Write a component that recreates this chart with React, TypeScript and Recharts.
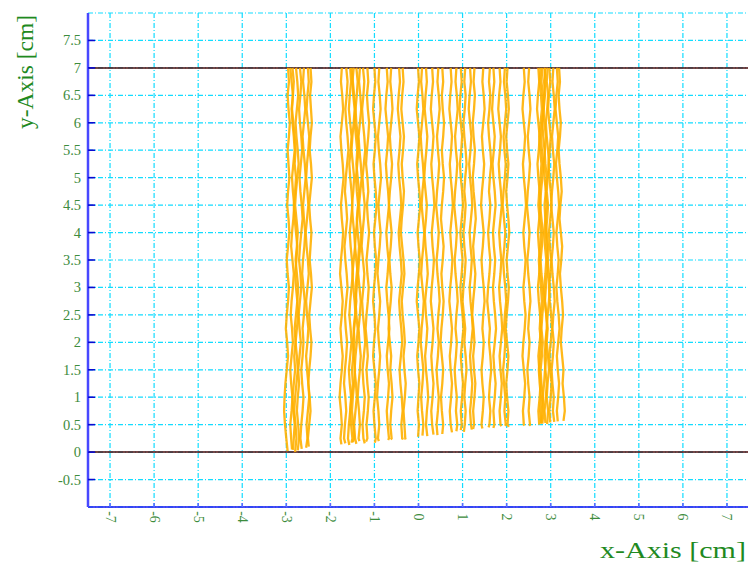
import React from 'react';
import { ScatterChart, Scatter, XAxis, YAxis, CartesianGrid, ReferenceLine } from 'recharts';

// Axis setup
const X_DOMAIN: [number, number] = [-7.5, 7.5];
const Y_DOMAIN: [number, number] = [-1, 8];
const X_TICKS = [-7, -6, -5, -4, -3, -2, -1, 0, 1, 2, 3, 4, 5, 6, 7];
const Y_TICKS = [-0.5, 0, 0.5, 1, 1.5, 2, 2.5, 3, 3.5, 4, 4.5, 5, 5.5, 6, 6.5, 7, 7.5];
const BOUNDARY_LINES = [0, 7];

// Tracks are sampled from the top boundary downwards every STEP cm;
// the final x value of each track belongs to its start height.
const TOP_Y = 7;
const STEP = 0.25;

// Bundle near x = -3 .. -2.4
const BUNDLE_A_START = [0.02, 0.05, 0.0, 0.03, 0.06, 0.08, 0.1, 0.04];
const BUNDLE_A_X = [
  [-2.96, -2.94, -2.97, -2.95, -2.92, -2.94, -2.97, -2.95, -2.93, -2.96, -2.98, -2.95, -2.93, -2.96, -2.99, -2.97, -2.94, -2.96, -2.99, -3.01, -2.98, -2.96, -2.99, -3.02, -3.04, -3.05, -3.03, -3.0, -2.97],
  [-2.86, -2.83, -2.85, -2.88, -2.86, -2.83, -2.81, -2.84, -2.87, -2.85, -2.82, -2.84, -2.87, -2.89, -2.86, -2.83, -2.85, -2.88, -2.9, -2.87, -2.85, -2.88, -2.91, -2.89, -2.86, -2.88, -2.91, -2.89, -2.87],
  [-2.78, -2.75, -2.73, -2.76, -2.79, -2.77, -2.74, -2.72, -2.75, -2.78, -2.8, -2.77, -2.74, -2.76, -2.79, -2.76, -2.73, -2.75, -2.78, -2.81, -2.79, -2.76, -2.74, -2.77, -2.8, -2.82, -2.79, -2.77, -2.8],
  [-2.69, -2.66, -2.68, -2.71, -2.69, -2.66, -2.64, -2.67, -2.7, -2.68, -2.65, -2.63, -2.66, -2.69, -2.71, -2.68, -2.66, -2.69, -2.72, -2.7, -2.67, -2.7, -2.73, -2.71, -2.74, -2.76, -2.73, -2.71, -2.74],
  [-2.6, -2.62, -2.59, -2.57, -2.6, -2.63, -2.61, -2.58, -2.56, -2.59, -2.62, -2.6, -2.57, -2.59, -2.62, -2.64, -2.61, -2.58, -2.6, -2.63, -2.61, -2.63, -2.66, -2.64, -2.61, -2.63, -2.66, -2.68, -2.65],
  [-2.51, -2.49, -2.52, -2.54, -2.51, -2.48, -2.5, -2.53, -2.55, -2.52, -2.5, -2.53, -2.56, -2.54, -2.51, -2.49, -2.52, -2.55, -2.53, -2.5, -2.52, -2.55, -2.53, -2.5, -2.48, -2.51, -2.54, -2.52, -2.55],
  [-2.45, -2.43, -2.46, -2.44, -2.42, -2.45, -2.47, -2.44, -2.42, -2.45, -2.48, -2.46, -2.43, -2.45, -2.47, -2.44, -2.42, -2.45, -2.48, -2.46, -2.43, -2.45, -2.48, -2.5, -2.47, -2.45, -2.48, -2.51, -2.49],
  [-2.91, -2.88, -2.85, -2.87, -2.84, -2.81, -2.79, -2.81, -2.78, -2.8, -2.83, -2.81, -2.78, -2.75, -2.77, -2.8, -2.78, -2.75, -2.73, -2.76, -2.79, -2.82, -2.8, -2.83, -2.86, -2.84, -2.81, -2.83, -2.85],
];

// Bundle near x = -1.8 .. -1.1
const BUNDLE_B_START = [0.14, 0.16, 0.13, 0.18, 0.15, 0.2, 0.16, 0.19, 0.17];
const BUNDLE_B_X = [
  [-1.74, -1.76, -1.73, -1.71, -1.74, -1.77, -1.75, -1.72, -1.7, -1.73, -1.76, -1.74, -1.71, -1.73, -1.76, -1.78, -1.75, -1.72, -1.74, -1.77, -1.75, -1.72, -1.74, -1.77, -1.79, -1.76, -1.74, -1.77, -1.75],
  [-1.64, -1.61, -1.63, -1.66, -1.64, -1.61, -1.59, -1.62, -1.65, -1.67, -1.64, -1.62, -1.65, -1.68, -1.66, -1.63, -1.61, -1.64, -1.67, -1.65, -1.62, -1.64, -1.67, -1.69, -1.66, -1.64, -1.67, -1.69, -1.66],
  [-1.55, -1.53, -1.56, -1.58, -1.55, -1.52, -1.54, -1.57, -1.55, -1.52, -1.5, -1.53, -1.56, -1.54, -1.51, -1.49, -1.52, -1.55, -1.57, -1.54, -1.52, -1.55, -1.58, -1.56, -1.53, -1.55, -1.58, -1.6, -1.57],
  [-1.47, -1.5, -1.48, -1.45, -1.47, -1.5, -1.52, -1.49, -1.46, -1.48, -1.51, -1.49, -1.46, -1.44, -1.47, -1.5, -1.48, -1.45, -1.43, -1.46, -1.49, -1.47, -1.44, -1.46, -1.49, -1.51, -1.48, -1.46, -1.49],
  [-1.41, -1.38, -1.4, -1.43, -1.41, -1.38, -1.36, -1.39, -1.42, -1.4, -1.37, -1.39, -1.42, -1.44, -1.41, -1.38, -1.4, -1.43, -1.41, -1.38, -1.4, -1.43, -1.45, -1.42, -1.4, -1.43, -1.46, -1.44, -1.41],
  [-1.33, -1.35, -1.32, -1.3, -1.33, -1.36, -1.34, -1.31, -1.29, -1.32, -1.35, -1.33, -1.3, -1.32, -1.35, -1.37, -1.34, -1.31, -1.33, -1.36, -1.34, -1.31, -1.33, -1.36, -1.38, -1.35, -1.33, -1.36, -1.34],
  [-1.26, -1.23, -1.25, -1.28, -1.26, -1.23, -1.21, -1.24, -1.27, -1.25, -1.22, -1.24, -1.27, -1.29, -1.26, -1.23, -1.25, -1.28, -1.26, -1.23, -1.21, -1.24, -1.27, -1.25, -1.22, -1.24, -1.27, -1.25, -1.22],
  [-1.16, -1.14, -1.17, -1.15, -1.12, -1.14, -1.17, -1.19, -1.16, -1.14, -1.17, -1.15, -1.12, -1.15, -1.18, -1.16, -1.13, -1.15, -1.18, -1.2, -1.17, -1.15, -1.18, -1.16, -1.13, -1.15, -1.18, -1.16, -1.19],
  [-1.52, -1.49, -1.46, -1.43, -1.45, -1.42, -1.39, -1.41, -1.38, -1.35, -1.37, -1.4, -1.38, -1.35, -1.37, -1.4, -1.43, -1.41, -1.44, -1.47, -1.45, -1.48, -1.51, -1.49, -1.52, -1.55, -1.53, -1.5, -1.52],
];

// Bundle near x = -1 .. -0.3
const BUNDLE_C_START = [0.17, 0.2, 0.22, 0.23, 0.24, 0.23];
const BUNDLE_C_X = [
  [-1.0, -0.98, -1.01, -1.03, -1.0, -0.97, -0.99, -1.02, -1.0, -0.97, -0.95, -0.98, -1.01, -0.99, -0.96, -0.98, -1.01, -1.03, -1.0, -0.98, -1.01, -1.03, -1.0, -0.97, -0.99, -1.02, -1.0, -0.97, -0.99],
  [-0.89, -0.91, -0.88, -0.86, -0.89, -0.92, -0.9, -0.87, -0.85, -0.88, -0.91, -0.89, -0.86, -0.88, -0.91, -0.93, -0.9, -0.87, -0.89, -0.92, -0.9, -0.87, -0.89, -0.92, -0.94, -0.91, -0.89, -0.92, -0.9],
  [-0.72, -0.7, -0.73, -0.75, -0.72, -0.69, -0.71, -0.74, -0.72, -0.69, -0.67, -0.7, -0.73, -0.71, -0.68, -0.7, -0.73, -0.71, -0.68, -0.66, -0.69, -0.72, -0.7, -0.67, -0.69, -0.72, -0.7, -0.67, -0.69],
  [-0.62, -0.64, -0.61, -0.59, -0.62, -0.65, -0.63, -0.6, -0.62, -0.65, -0.67, -0.64, -0.61, -0.63, -0.66, -0.64, -0.61, -0.63, -0.66, -0.68, -0.65, -0.62, -0.64, -0.61, -0.59, -0.62, -0.64, -0.61, -0.63],
  [-0.44, -0.42, -0.45, -0.47, -0.44, -0.41, -0.43, -0.46, -0.44, -0.41, -0.39, -0.42, -0.45, -0.43, -0.4, -0.38, -0.41, -0.44, -0.42, -0.39, -0.37, -0.4, -0.43, -0.41, -0.38, -0.36, -0.39, -0.37, -0.34],
  [-0.36, -0.34, -0.37, -0.39, -0.36, -0.33, -0.35, -0.38, -0.36, -0.33, -0.35, -0.38, -0.4, -0.37, -0.34, -0.32, -0.35, -0.38, -0.36, -0.33, -0.31, -0.34, -0.32, -0.29, -0.31, -0.34, -0.32, -0.3, -0.29],
];

// Bundle near x = 0 .. 0.55
const BUNDLE_D_START = [0.28, 0.3, 0.29, 0.32, 0.31, 0.33];
const BUNDLE_D_X = [
  [-0.01, 0.01, -0.02, -0.04, -0.01, 0.02, 0.0, -0.03, -0.01, 0.02, 0.04, 0.01, -0.02, 0.0, 0.03, 0.01, -0.02, -0.04, -0.01, 0.02, 0.0, -0.03, -0.01, 0.02, 0.0, -0.02, 0.01, -0.01],
  [0.08, 0.06, 0.09, 0.11, 0.08, 0.05, 0.07, 0.1, 0.12, 0.09, 0.07, 0.1, 0.13, 0.11, 0.08, 0.06, 0.09, 0.12, 0.1, 0.07, 0.05, 0.08, 0.11, 0.09, 0.06, 0.08, 0.11, 0.09],
  [0.17, 0.19, 0.16, 0.14, 0.17, 0.2, 0.18, 0.15, 0.13, 0.16, 0.19, 0.17, 0.14, 0.16, 0.19, 0.21, 0.18, 0.15, 0.17, 0.2, 0.18, 0.15, 0.17, 0.2, 0.22, 0.19, 0.17, 0.2],
  [0.31, 0.33, 0.3, 0.28, 0.31, 0.34, 0.32, 0.29, 0.31, 0.34, 0.36, 0.33, 0.3, 0.32, 0.35, 0.33, 0.3, 0.28, 0.31, 0.34, 0.32, 0.29, 0.31, 0.34, 0.32, 0.29, 0.31, 0.34],
  [0.45, 0.43, 0.46, 0.48, 0.45, 0.42, 0.44, 0.47, 0.45, 0.42, 0.4, 0.43, 0.46, 0.44, 0.41, 0.43, 0.46, 0.48, 0.45, 0.43, 0.46, 0.44, 0.41, 0.43, 0.46, 0.44, 0.41, 0.43],
  [0.54, 0.56, 0.53, 0.55, 0.58, 0.56, 0.53, 0.55, 0.58, 0.56, 0.53, 0.51, 0.54, 0.57, 0.55, 0.52, 0.54, 0.57, 0.55, 0.52, 0.5, 0.53, 0.56, 0.54, 0.51, 0.53, 0.56, 0.54],
];

// Bundle near x = 0.7 .. 1.3
const BUNDLE_E_START = [0.36, 0.38, 0.4, 0.37, 0.41, 0.42];
const BUNDLE_E_X = [
  [0.73, 0.75, 0.72, 0.7, 0.73, 0.76, 0.74, 0.71, 0.73, 0.76, 0.78, 0.75, 0.72, 0.74, 0.77, 0.75, 0.72, 0.7, 0.73, 0.76, 0.74, 0.71, 0.73, 0.76, 0.74, 0.71, 0.73, 0.76],
  [0.86, 0.84, 0.87, 0.89, 0.86, 0.83, 0.85, 0.88, 0.86, 0.83, 0.81, 0.84, 0.87, 0.85, 0.82, 0.84, 0.87, 0.89, 0.86, 0.84, 0.87, 0.85, 0.82, 0.84, 0.87, 0.85, 0.88, 0.86],
  [0.96, 0.98, 0.95, 0.93, 0.96, 0.99, 0.97, 0.94, 0.96, 0.99, 1.01, 0.98, 0.95, 0.97, 1.0, 0.98, 0.95, 0.97, 1.0, 1.02, 0.99, 0.96, 0.98, 1.01, 0.99, 0.96, 0.98, 0.96],
  [1.06, 1.04, 1.07, 1.05, 1.02, 1.04, 1.07, 1.09, 1.06, 1.04, 1.07, 1.05, 1.02, 1.04, 1.07, 1.05, 1.02, 1.0, 1.03, 1.06, 1.04, 1.07, 1.09, 1.06, 1.04, 1.07, 1.05, 1.03],
  [1.17, 1.19, 1.16, 1.14, 1.17, 1.2, 1.18, 1.15, 1.17, 1.2, 1.22, 1.19, 1.16, 1.18, 1.21, 1.19, 1.16, 1.18, 1.21, 1.23, 1.2, 1.17, 1.19, 1.22, 1.2, 1.17, 1.19, 1.21],
  [1.27, 1.25, 1.28, 1.26, 1.23, 1.25, 1.28, 1.26, 1.23, 1.25, 1.28, 1.3, 1.27, 1.24, 1.26, 1.29, 1.27, 1.24, 1.22, 1.25, 1.27, 1.24, 1.26, 1.29, 1.27, 1.24, 1.26, 1.24],
];

// Bundle near x = 1.45 .. 2.05
const BUNDLE_F_START = [0.43, 0.45, 0.44, 0.47, 0.48, 0.46];
const BUNDLE_F_X = [
  [1.47, 1.45, 1.48, 1.5, 1.47, 1.44, 1.46, 1.49, 1.47, 1.44, 1.42, 1.45, 1.48, 1.46, 1.43, 1.45, 1.48, 1.5, 1.47, 1.45, 1.48, 1.46, 1.43, 1.45, 1.48, 1.46, 1.43, 1.45],
  [1.62, 1.6, 1.63, 1.61, 1.58, 1.6, 1.63, 1.65, 1.62, 1.6, 1.63, 1.61, 1.58, 1.6, 1.63, 1.61, 1.58, 1.56, 1.59, 1.62, 1.6, 1.63, 1.65, 1.62, 1.6, 1.63, 1.61, 1.59],
  [1.7, 1.72, 1.69, 1.67, 1.7, 1.73, 1.71, 1.68, 1.7, 1.73, 1.75, 1.72, 1.69, 1.71, 1.74, 1.72, 1.69, 1.71, 1.74, 1.76, 1.73, 1.7, 1.72, 1.75, 1.73, 1.7, 1.72, 1.7],
  [1.84, 1.86, 1.83, 1.81, 1.84, 1.87, 1.85, 1.82, 1.84, 1.87, 1.89, 1.86, 1.83, 1.85, 1.88, 1.86, 1.83, 1.85, 1.88, 1.9, 1.87, 1.84, 1.86, 1.89, 1.87, 1.84, 1.86, 1.88],
  [1.96, 1.94, 1.97, 1.99, 1.96, 1.93, 1.95, 1.98, 1.96, 1.93, 1.91, 1.94, 1.97, 1.95, 1.92, 1.94, 1.97, 1.99, 1.96, 1.94, 1.97, 1.95, 1.92, 1.94, 1.97, 1.95, 1.98, 1.96],
  [2.02, 2.0, 2.03, 2.05, 2.02, 1.99, 2.01, 2.04, 2.02, 1.99, 2.01, 2.04, 2.06, 2.03, 2.0, 2.02, 2.05, 2.03, 2.0, 1.98, 2.01, 2.04, 2.02, 1.99, 2.01, 2.04, 2.02, 2.05],
];

// Pair near x = 2.4 .. 2.5
const BUNDLE_G_START = [0.49, 0.48];
const BUNDLE_G_X = [
  [2.39, 2.41, 2.38, 2.36, 2.39, 2.42, 2.4, 2.37, 2.39, 2.42, 2.44, 2.41, 2.38, 2.4, 2.43, 2.41, 2.38, 2.4, 2.43, 2.41, 2.38, 2.36, 2.39, 2.42, 2.4, 2.37, 2.39, 2.37],
  [2.51, 2.49, 2.52, 2.54, 2.51, 2.48, 2.5, 2.53, 2.51, 2.48, 2.46, 2.49, 2.52, 2.5, 2.47, 2.49, 2.52, 2.54, 2.51, 2.49, 2.52, 2.5, 2.47, 2.49, 2.52, 2.5, 2.53, 2.51],
];

// Bundle near x = 2.7 .. 3.3
const BUNDLE_H_START = [0.5, 0.52, 0.53, 0.51, 0.54, 0.55, 0.56, 0.57, 0.52, 0.53];
const BUNDLE_H_X = [
  [2.72, 2.74, 2.71, 2.69, 2.72, 2.75, 2.73, 2.7, 2.72, 2.75, 2.77, 2.74, 2.71, 2.73, 2.76, 2.74, 2.71, 2.73, 2.76, 2.78, 2.75, 2.72, 2.74, 2.77, 2.75, 2.72, 2.74],
  [2.81, 2.79, 2.82, 2.84, 2.81, 2.78, 2.8, 2.83, 2.81, 2.78, 2.76, 2.79, 2.82, 2.8, 2.77, 2.79, 2.82, 2.84, 2.81, 2.79, 2.82, 2.8, 2.77, 2.79, 2.82, 2.8, 2.78],
  [2.86, 2.88, 2.85, 2.83, 2.86, 2.89, 2.87, 2.84, 2.86, 2.89, 2.91, 2.88, 2.85, 2.87, 2.9, 2.88, 2.85, 2.87, 2.9, 2.92, 2.89, 2.86, 2.88, 2.91, 2.89, 2.86, 2.88],
  [2.93, 2.91, 2.94, 2.92, 2.89, 2.91, 2.94, 2.96, 2.93, 2.91, 2.94, 2.92, 2.89, 2.91, 2.94, 2.92, 2.89, 2.87, 2.9, 2.93, 2.91, 2.94, 2.96, 2.93, 2.91, 2.94, 2.92],
  [2.97, 2.99, 2.96, 2.94, 2.97, 3.0, 2.98, 2.95, 2.97, 3.0, 3.02, 2.99, 2.96, 2.98, 3.01, 2.99, 2.96, 2.98, 3.01, 3.03, 3.0, 2.97, 2.99, 3.02, 3.0, 2.97, 2.99],
  [3.06, 3.04, 3.07, 3.09, 3.06, 3.03, 3.05, 3.08, 3.06, 3.03, 3.01, 3.04, 3.07, 3.05, 3.02, 3.04, 3.07, 3.09, 3.06, 3.04, 3.07, 3.05, 3.02, 3.04, 3.07, 3.05, 3.08],
  [3.14, 3.16, 3.13, 3.11, 3.14, 3.17, 3.15, 3.12, 3.14, 3.17, 3.19, 3.16, 3.13, 3.15, 3.18, 3.16, 3.13, 3.15, 3.18, 3.2, 3.17, 3.14, 3.16, 3.19, 3.17, 3.14, 3.16],
  [3.19, 3.21, 3.18, 3.2, 3.23, 3.21, 3.18, 3.2, 3.23, 3.25, 3.22, 3.2, 3.23, 3.26, 3.24, 3.21, 3.23, 3.26, 3.28, 3.25, 3.23, 3.26, 3.29, 3.27, 3.3, 3.32, 3.29],
  [2.88, 2.85, 2.87, 2.84, 2.81, 2.83, 2.86, 2.88, 2.91, 2.89, 2.86, 2.88, 2.91, 2.94, 2.92, 2.95, 2.98, 2.96, 2.93, 2.91, 2.88, 2.9, 2.87, 2.85, 2.82, 2.84, 2.81],
  [2.77, 2.75, 2.78, 2.8, 2.77, 2.74, 2.76, 2.79, 2.77, 2.74, 2.72, 2.75, 2.78, 2.76, 2.73, 2.75, 2.78, 2.8, 2.77, 2.75, 2.78, 2.76, 2.73, 2.75, 2.78, 2.76, 2.79],
];

const BUNDLES: [number[], number[][]][] = [
  [BUNDLE_A_START, BUNDLE_A_X],
  [BUNDLE_B_START, BUNDLE_B_X],
  [BUNDLE_C_START, BUNDLE_C_X],
  [BUNDLE_D_START, BUNDLE_D_X],
  [BUNDLE_E_START, BUNDLE_E_X],
  [BUNDLE_F_START, BUNDLE_F_X],
  [BUNDLE_G_START, BUNDLE_G_X],
  [BUNDLE_H_START, BUNDLE_H_X],
];

type Pt = { x: number; y: number };

function trackPoints(start: number, xs: number[]): Pt[] {
  const last = xs.length - 1;
  return xs
    .map((x, i) => ({ x, y: i === last ? start : TOP_Y - STEP * i }))
    .filter((p, i) => i === last || p.y > start);
}

const TRACKS: Pt[][] = BUNDLES.flatMap(([starts, xs]) =>
  xs.map((row, i) => trackPoints(starts[i], row))
);

const SERIF = '"Liberation Serif", "Times New Roman", serif';
const LABEL_GREEN = '#3d8c3d';
const TITLE_GREEN = '#1f8a1f';
const TRACK_COLOR = '#FFB000';

const BottomTick = (props: any) => {
  const { x, y, payload } = props;
  const axisY = y - 10;
  return (
    <g>
      <line x1={x} y1={axisY} x2={x} y2={axisY - 4} stroke="#5b6bff" strokeWidth={1.6} />
      <text
        x={x}
        y={y}
        transform={`rotate(90, ${x}, ${y})`}
        textAnchor="middle"
        dominantBaseline="central"
        fontFamily={SERIF}
        fontSize={14}
        fill={LABEL_GREEN}
      >
        {payload.value}
      </text>
    </g>
  );
};

const TopTick = (props: any) => {
  const { x, y } = props;
  return <line x1={x} y1={y} x2={x} y2={y + 4} stroke="#3b3bff" strokeWidth={2} />;
};

const LeftTick = (props: any) => {
  const { x, y, payload } = props;
  const axisX = x + 7;
  return (
    <g>
      <line x1={axisX} y1={y} x2={axisX + 7} y2={y} stroke="#0a0ad0" strokeWidth={1.6} />
      <text
        x={x}
        y={y}
        textAnchor="end"
        dominantBaseline="central"
        fontFamily={SERIF}
        fontSize={14.5}
        fill={LABEL_GREEN}
      >
        {payload.value}
      </text>
    </g>
  );
};

const RightTick = (props: any) => {
  const { x, y } = props;
  return <line x1={x - 6} y1={y} x2={x} y2={y} stroke="#1a1aff" strokeWidth={1.6} />;
};

const NoDot = () => <g />;

export default function App() {
  return (
    <div
      style={{
        position: 'fixed',
        left: 0,
        top: 0,
        width: 748,
        height: 565,
        overflow: 'hidden',
        background: '#ffffff',
      }}
    >
      <ScatterChart width={760} height={565} margin={{ top: 13, right: 11, bottom: 0, left: 0 }}>
        <CartesianGrid stroke="#12dcff" strokeWidth={1.2} strokeDasharray="5 2 1 2" />
        <XAxis
          xAxisId={0}
          type="number"
          dataKey="x"
          domain={X_DOMAIN}
          ticks={X_TICKS}
          interval={0}
          allowDataOverflow
          height={58}
          axisLine={{ stroke: '#1010f0', strokeWidth: 1.6 }}
          tickLine={false}
          tickSize={0}
          tickMargin={10}
          tick={BottomTick}
        />
        <XAxis
          xAxisId="top"
          orientation="top"
          type="number"
          dataKey="x"
          domain={X_DOMAIN}
          ticks={X_TICKS}
          interval={0}
          allowDataOverflow
          height={0}
          axisLine={{ stroke: '#dcdcf0', strokeWidth: 1.5 }}
          tickLine={false}
          tickSize={0}
          tickMargin={0}
          tick={TopTick}
        />
        <YAxis
          yAxisId={0}
          type="number"
          dataKey="y"
          domain={Y_DOMAIN}
          ticks={Y_TICKS}
          interval={0}
          allowDataOverflow
          width={88}
          axisLine={{ stroke: '#4848ff', strokeWidth: 2.5 }}
          tickLine={false}
          tickSize={0}
          tickMargin={7}
          tick={LeftTick}
        />
        <YAxis
          yAxisId="right"
          orientation="right"
          type="number"
          dataKey="y"
          domain={Y_DOMAIN}
          ticks={Y_TICKS}
          interval={0}
          allowDataOverflow
          width={0}
          axisLine={false}
          tickLine={false}
          tickSize={0}
          tickMargin={0}
          tick={RightTick}
        />
        {BOUNDARY_LINES.map((v) => (
          <ReferenceLine key={v} y={v} yAxisId={0} xAxisId={0} stroke="#4a0808" strokeWidth={1.5} />
        ))}
        {TRACKS.map((pts, i) => (
          <Scatter
            key={i}
            xAxisId={0}
            yAxisId={0}
            data={pts}
            line={{ stroke: TRACK_COLOR, strokeWidth: 2.3, strokeOpacity: 0.9 }}
            lineJointType="linear"
            lineType="joint"
            shape={NoDot}
            isAnimationActive={false}
          />
        ))}
        <text
          x={33}
          y={72}
          transform="rotate(-90, 33, 72)"
          textAnchor="middle"
          fontFamily={SERIF}
          fontSize={23}
          fill={TITLE_GREEN}
          textLength={114}
          lengthAdjust="spacingAndGlyphs"
        >
          y-Axis [cm]
        </text>
        <text
          x={746}
          y={558}
          textAnchor="end"
          fontFamily={SERIF}
          fontSize={24}
          fill={TITLE_GREEN}
          textLength={146}
          lengthAdjust="spacingAndGlyphs"
        >
          x-Axis [cm]
        </text>
      </ScatterChart>
    </div>
  );
}
